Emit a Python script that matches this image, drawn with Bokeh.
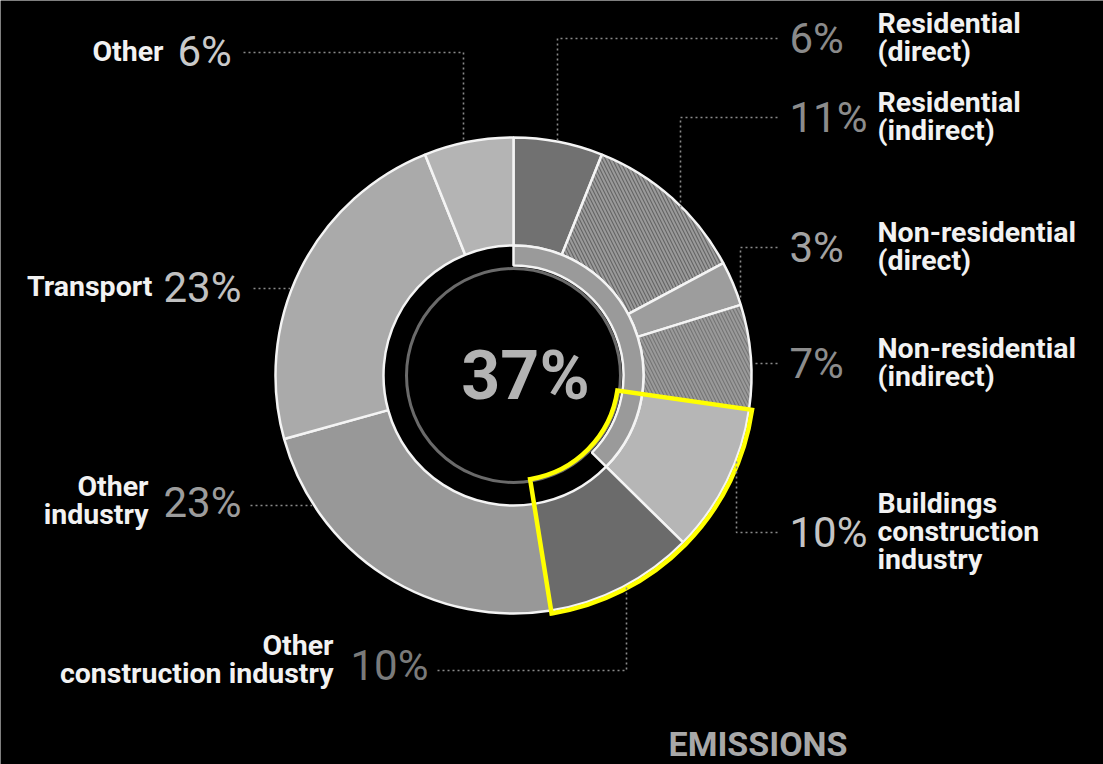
import numpy as np
from bokeh.plotting import figure
from bokeh.models import Range1d, ColumnDataSource
from bokeh.core.properties import value
from bokeh.embed import file_html
from bokeh.resources import INLINE

# ---------------- data ----------------
segments = ["Residential (direct)", "Residential (indirect)", "Non-residential (direct)",
            "Non-residential (indirect)", "Buildings construction industry",
            "Other construction industry", "Other industry", "Transport", "Other"]
shares = [6, 11, 3, 7, 10, 10, 23, 23, 6]
pct_labels = ["6%", "11%", "3%", "7%", "10%", "10%", "23%", "23%", "6%"]
name_lines = [["Residential", "(direct)"], ["Residential", "(indirect)"],
              ["Non-residential", "(direct)"], ["Non-residential", "(indirect)"],
              ["Buildings", "construction", "industry"],
              ["Other", "construction industry"], ["Other", "industry"],
              ["Transport"], ["Other"]]
buildings_count = 5          # first five segments make up the buildings share
center_label = "37%"
footer = "EMISSIONS"

# ---------------- styles ----------------
seg_colors = ["#717171", "#646464", "#9d9d9d", "#747474", "#b6b6b6",
              "#6b6b6b", "#989898", "#aaaaaa", "#b4b4b4"]
seg_hatch = [" ", "\\", " ", "\\", " ", " ", " ", " ", " "]
pct_colors = ["#8a8a8a", "#8c8c8c", "#a2a2a2", "#8c8c8c", "#c4c4c4",
              "#7a7a7a", "#9c9c9c", "#c0c0c0", "#cacaca"]

W, H = 1103, 764
def Y(y):
    return H - y

CX, CY = 513, 375
R_OUT, R_IN = 238, 130
BAND_IN = 110

p = figure(width=W, height=H, x_range=Range1d(0, W), y_range=Range1d(0, H),
           output_backend="svg", toolbar_location=None, min_border=0,
           x_axis_type=None, y_axis_type=None,
           background_fill_color="black", border_fill_color="black",
           outline_line_color=None)
p.grid.visible = False

vals = np.array(shares, dtype=float)
tot = vals.sum()
cum = np.cumsum(vals)
start_frac = (cum - vals) / tot
end_frac = cum / tot
start_ang = np.pi / 2 - 2 * np.pi * start_frac
end_ang = np.pi / 2 - 2 * np.pi * end_frac

src = ColumnDataSource(dict(name=segments, start=start_ang, end=end_ang,
                            color=seg_colors, hatch=seg_hatch))
p.annular_wedge(x=CX, y=Y(CY), inner_radius=R_IN, outer_radius=R_OUT,
                start_angle="start", end_angle="end", direction="clock",
                fill_color="color", line_color="#f4f4f4", line_width=2.5,
                hatch_pattern="hatch", hatch_color="#9a9a9a", hatch_scale=7,
                hatch_weight=2, source=src)

# inner band for the buildings share
band_end = np.pi / 2 - 2 * np.pi * cum[buildings_count - 1] / tot
p.annular_wedge(x=CX, y=Y(CY), inner_radius=BAND_IN, outer_radius=R_IN,
                start_angle=np.pi / 2, end_angle=band_end, direction="clock",
                fill_color="#9a9a9a", line_color="#f4f4f4", line_width=2.5)
# thin grey ring
p.circle(x=CX, y=Y(CY), radius=107, fill_color=None, line_color="#6a6a6a",
         line_width=3)

# yellow outline around construction-industry segments
yl_start = start_ang[4]
yl_end = end_ang[5]
p.annular_wedge(x=CX, y=Y(CY), inner_radius=105, outer_radius=241,
                start_angle=yl_start, end_angle=yl_end, direction="clock",
                fill_alpha=0, line_color="#ffff00", line_width=4.5,
                line_join="miter")

# centre label
p.text(x=[CX + 12], y=[Y(CY)], text=[center_label], text_font=value("Roboto"),
       text_font_style="bold", text_font_size="68px", text_color="#b3b3b3",
       text_align="center", text_baseline="middle")

# ---------------- labels ----------------
NAME_FONT = "28.5px"
PCT_FONT = "42px"
LH = 28

def name_block(lines, x, yc, align):
    n = len(lines)
    ys = [Y(yc + (i - (n - 1) / 2) * LH) for i in range(n)]
    p.text(x=[x] * n, y=ys, text=lines, text_font=value("Roboto"),
           text_font_style="bold", text_font_size=NAME_FONT, text_color="#f2f2f2",
           text_align=align, text_baseline="middle")

def pct(i, x, yc, align):
    p.text(x=[x], y=[Y(yc)], text=[pct_labels[i]], text_font=value("Roboto"),
           text_font_size=PCT_FONT, text_color=pct_colors[i],
           text_align=align, text_baseline="middle")

def leader(xs, ys):
    p.line(x=xs, y=[Y(v) for v in ys], line_color="#8a8a8a", line_width=1.6,
           line_dash="2 3")

def ring_y(x, top=True):
    d = np.sqrt(R_OUT ** 2 - (x - CX) ** 2)
    return CY - d if top else CY + d

def ring_x(y, left=True):
    d = np.sqrt(R_OUT ** 2 - (y - CY) ** 2)
    return CX - d if left else CX + d

# right side
PX, NX = 789, 877
right_rows = [(0, 38), (1, 117), (2, 247), (3, 363), (4, 532)]
for i, yc in right_rows:
    pct(i, PX, yc, "left")
    name_block(name_lines[i], NX, yc - 1, "left")

leader([777, 557, 557], [38, 38, ring_y(557) + 2])
leader([777, 680, 680], [117, 117, ring_y(680) + 2])
leader([777, 740, 740], [247, 247, ring_y(740) - 4])
leader([777, ring_x(363, False) + 2], [363, 363])
leader([777, 736, 736], [532, 532, ring_y(736, False) + 2])

# left side
# Other
pct(8, 177, 51, "left")
name_block(name_lines[8], 163, 51, "right")
leader([243, 463, 463], [52, 52, ring_y(463) - 2])
# Transport
pct(7, 163, 287, "left")
name_block(name_lines[7], 152, 286, "right")
leader([253, ring_x(288) - 2], [288, 288])
# Other industry
pct(6, 163, 502, "left")
name_block(name_lines[6], 148, 500, "right")
leader([250, ring_x(505) - 2], [505, 505])
# Other construction industry
pct(5, 350, 665, "left")
name_block(name_lines[5], 333, 659, "right")
leader([437, 626, 626], [670, 670, ring_y(626, False) + 2])

# footer
p.text(x=[668], y=[Y(743)], text=[footer], text_font=value("Roboto"),
       text_font_style="bold", text_font_size="34px", text_color="#a8a8a8",
       text_align="left", text_baseline="middle")

open("out.html", "w").write(file_html(p, INLINE))
